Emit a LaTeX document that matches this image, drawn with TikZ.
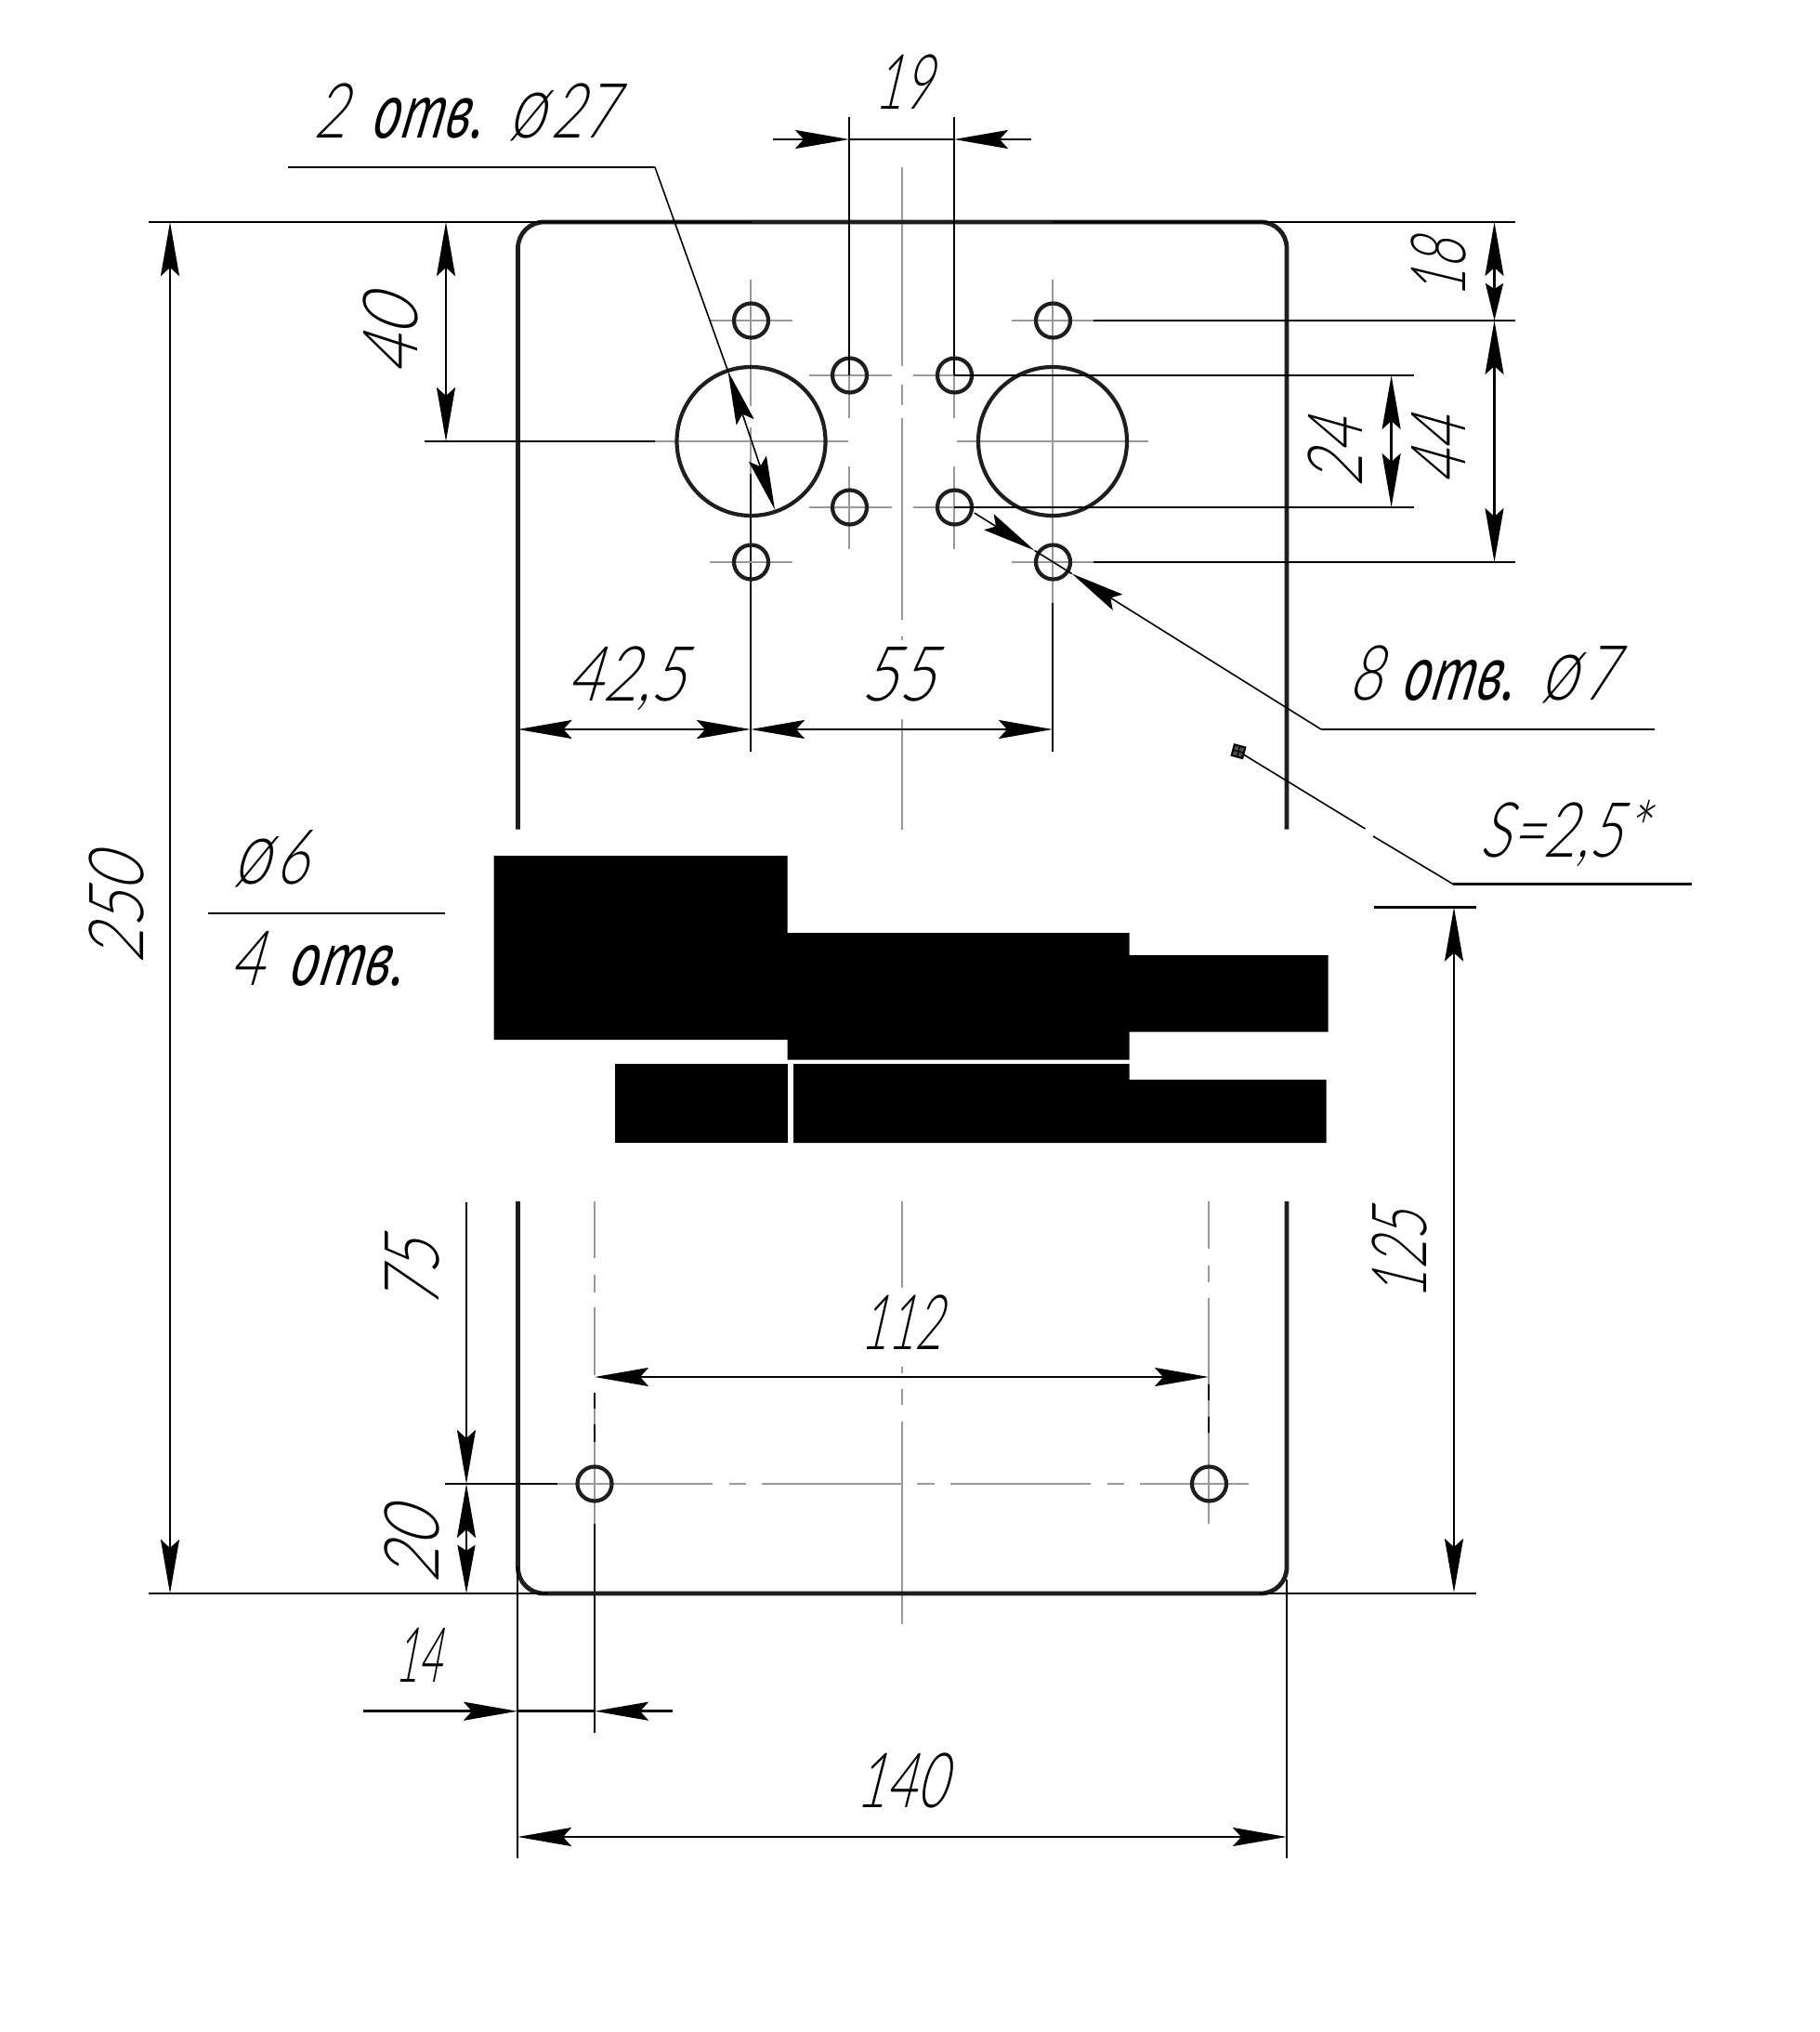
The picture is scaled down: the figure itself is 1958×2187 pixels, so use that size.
\documentclass[tikz,border=0pt]{standalone}
\usepackage{fontspec}
\usetikzlibrary{arrows.meta}
\setmainfont{Liberation Sans}
\newfontfamily\gf{Lato Light}[FakeSlant=0.27,FakeStretch=0.72]
\newfontfamily\gc{PT Sans}[ItalicFeatures={FakeSlant=0.14,FakeStretch=0.72}]
\newcommand{\otv}{{\gc\itshape\fontsize{42}{42}\selectfont отв.}}
\newcommand{\dia}{{\fontsize{48}{48}\selectfont ø}\hskip 3pt}
\definecolor{contour}{HTML}{1E1E1E}
\definecolor{axisgray}{HTML}{999999}
\tikzset{
  >={Stealth[length=29pt,width=10pt,inset=4.5pt]},
  contourline/.style={draw=contour,line width=2.4pt},
  holeline/.style={draw=contour,line width=2.1pt},
  axisline/.style={draw=axisgray,line width=1.25pt},
  dimline/.style={draw=black,line width=1.35pt},
  thinline/.style={draw=black,line width=.8pt},
  dimtext/.style={font=\gf\fontsize{41}{41}\selectfont,inner sep=0pt,anchor=base,text=black},
  widen/.style={xscale=#1,transform shape},
  blackblock/.style={fill=black,draw=none}
}
\begin{document}
\begin{tikzpicture}[x=.5pt,y=-.5pt]
\useasboundingbox (0,0) rectangle (1958,2187);
% axis lines, long centre line
\foreach \a/\b in {180/394,414/436,450/667,685/689,774/892.5,1293/1386,1471/1478,1495/1512,1530/1748}
  \draw[axisline] (971,\a) -- (971,\b);
% extension lines of 42,5 / 55 / 14 / 112 below the axes
\draw[dimline] (808,510) -- (808,809);
\draw[dimline] (1133,649) -- (1133,809);
\draw[dimline] (640,1499) -- (640,1865);
\draw[dimline] (1301,1490) -- (1301,1545);
% hole axes top
\draw[axisline] (808,301) -- (808,437);
\draw[axisline] (808,460) -- (808,510);
\draw[axisline] (1133,301) -- (1133,649);
\foreach \y in {345,605} {
  \draw[axisline] (764,\y) -- (853,\y);
  \draw[axisline] (1089,\y) -- (1177,\y);
}
\draw[axisline] (705,475) -- (912.5,475);
\draw[axisline] (1030,475) -- (1236,475);
\foreach \y in {404,546} {
  \draw[axisline] (870.5,\y) -- (959.5,\y);
  \draw[axisline] (982.5,\y) -- (1027,\y);
}
\draw[axisline] (914,404) -- (914,450);
\draw[axisline] (1027,404) -- (1027,450);
\draw[axisline] (914,502) -- (914,590.5);
\draw[axisline] (1027,502) -- (1027,590.5);
% hole axes bottom
\foreach \a/\b in {1293/1354,1372/1391,1407/1480,1516/1533,1552/1640}
  \draw[axisline] (640,\a) -- (640,\b);
\foreach \a/\b in {1293/1344,1362/1380,1397/1490,1507/1525,1542/1640}
  \draw[axisline] (1301,\a) -- (1301,\b);
\foreach \a/\b in {600/767,785/803,820/971,987/1005.5,1023/1174,1192/1210,1226.5/1344}
  \draw[axisline] (\a,1597) -- (\b,1597);
% plate contour
\draw[contourline,rounded corners=14pt] (557.5,892.7) -- (557.5,239) -- (1385,239) -- (1385,892.7);
\draw[contourline,rounded corners=14pt] (557.5,1293) -- (557.5,1715) -- (1385,1715) -- (1385,1293);
% holes
\draw[holeline] (808.5,475) circle[radius=80];
\draw[holeline] (1133,475) circle[radius=80];
\foreach \x/\y in {808.5/345,808.5/605,1133.5/345,1133.5/605,914.5/404,914.5/546,1027.5/404,1027.5/546,640/1597,1301.5/1597}
  \draw[holeline] (\x,\y) circle[radius=18.5];
% black blocks
\fill[blackblock] (531.5,921) -- (847.5,921) -- (847.5,1004) -- (1215.5,1004) -- (1215.5,1028) -- (1429.5,1028)
  -- (1429.5,1110.7) -- (1215.5,1110.7) -- (1215.5,1140.7) -- (847.5,1140.7) -- (847.5,1119) -- (531.5,1119) -- cycle;
\fill[blackblock] (662,1145) rectangle (847.5,1230);
\fill[blackblock] (854,1145) -- (1215.5,1145) -- (1215.5,1162) -- (1427.5,1162) -- (1427.5,1230) -- (854,1230) -- cycle;
% extension lines
\draw[dimline] (160,239) -- (809,239);
\draw[dimline] (160,1715) -- (590,1715);
\draw[dimline] (1133,239) -- (1631,239);
\draw[dimline] (1355,1715) -- (1589,1715);
\draw[dimline] (1479,976.5) -- (1589,976.5);
\draw[dimline] (1177,345) -- (1631,345);
\draw[dimline] (1177,605) -- (1631,605);
\draw[dimline] (1027,404) -- (1522,404);
\draw[dimline] (1027,546) -- (1522,546);
\draw[dimline] (457,475) -- (705,475);
\draw[dimline] (479,1597) -- (600,1597);
\draw[dimline] (914,126) -- (914,404);
\draw[dimline] (1027,126) -- (1027,404);
\draw[dimline] (557,1686) -- (557,2000);
\draw[dimline] (1385,1700) -- (1385,2000);
% dimension lines
\draw[dimline,<->] (183,239) -- (183,1715);
\draw[dimline,<->] (480,239) -- (480,475);
\draw[dimline,<->] (1565,976.5) -- (1565,1714);
\draw[dimline,<->] (557.5,785) -- (808,785);
\draw[dimline,<->] (808,785) -- (1133,785);
\draw[dimline,<->] (640,1482) -- (1301,1482);
\draw[dimline,<->] (557,1977) -- (1385,1977);
\draw[dimline,<->] (1497.6,404) -- (1497.6,546);
\draw[dimline,<->] (1608.5,345) -- (1608.5,605);
\draw[dimline,arrows={Stealth[length=29pt,width=10pt,inset=4.5pt]-Stealth[length=20pt,width=9.5pt,inset=3pt]}] (1608.5,239) -- (1608.5,345);
\draw[dimline,arrows={Stealth[length=29pt,width=10pt,inset=4.5pt]-Stealth[length=26pt,width=9.5pt,inset=3pt]}] (502,1597) -- (502,1715);
\draw[dimline,->] (502,1294) -- (502,1597);
\draw[dimline,->] (832,150) -- (914,150);
\draw[dimline] (914,150) -- (1027,150);
\draw[dimline,->] (1110,150) -- (1027,150);
\draw[dimline,->] (391,1841.7) -- (557,1841.7);
\draw[dimline] (557,1841.7) -- (640,1841.7);
\draw[dimline,->] (724,1841.7) -- (640,1841.7);
% leaders
\draw[dimline] (310,180) -- (705,180);
\draw[thinline] (705,180) -- (783.5,399.3);
\draw[thinline,<->] (783.5,399.3) -- (834,548.6);
\draw[dimline] (1780.6,785) -- (1422,785);
\draw[thinline] (1153.8,617.5) -- (1113.6,592.5);
\draw[thinline,->] (1422,785) -- (1153.8,617.5);
\draw[thinline,->] (1048.7,552) -- (1113.6,592.5);
\draw[dimline] (1821,951.5) -- (1564,951.5);
\draw[thinline] (1564,951.5) -- (1478,900);
\draw[thinline] (1469.5,892) -- (1333,808.7);
\draw[dimline] (224,983) -- (479,983);
% marker
\begin{scope}[shift={(1333,808.7)},rotate=-15]
  \draw[line width=1pt,fill=black!70] (-6,-6) rectangle (6,6);
  \draw[line width=.6pt] (-6,0) -- (6,0) (0,-6) -- (0,6);
\end{scope}
% texts
\node[dimtext,widen=1.02] (t27) at (500,149) {2\hskip 13pt\otv\hskip 14pt\dia27};
\node[dimtext,widen=.88] (t19) at (972,118) {19};
\node[dimtext,rotate=90,widen=1.2] (t40) at (449.5,363) {40};
\node[dimtext,rotate=90,widen=.9] (t18) at (1577,290) {18};
\node[dimtext,rotate=90,widen=1.05] (t24) at (1466.6,489) {24};
\node[dimtext,rotate=90,widen=1.05] (t44) at (1577,487) {44};
\node[dimtext,widen=1.1] (t425) at (674,754) {42,5};
\node[dimtext,widen=1.15] (t55) at (966,754) {55};
\node[dimtext,widen=1.03] (t7) at (1595,753.6) {8\hskip 11pt\otv\hskip 14pt\dia7};
\node[dimtext,widen=1.04] (ts) at (1682,922) {S=2,5*};
\node[dimtext,rotate=90,widen=1.12] (t250) at (154,980) {250};
\node[dimtext,widen=1.02] (tphi) at (291,951.7) {\dia6};
\node[dimtext,widen=1.05] (t4) at (340,1060) {4\hskip 13pt\otv};
\node[dimtext,rotate=90,widen=.92] (t125) at (1535,1351) {125};
\node[dimtext,rotate=90,widen=1.08] (t75) at (472,1372) {75};
\node[dimtext,rotate=90,widen=1.16] (t20) at (472,1665) {20};
\node[dimtext,widen=.72] (t14) at (450,1810.7) {14};
\node[dimtext,widen=.85] (t112) at (970,1452) {112};
\node[dimtext,widen=.94] (t140) at (970,1945.7) {140};
\end{tikzpicture}
\end{document}
